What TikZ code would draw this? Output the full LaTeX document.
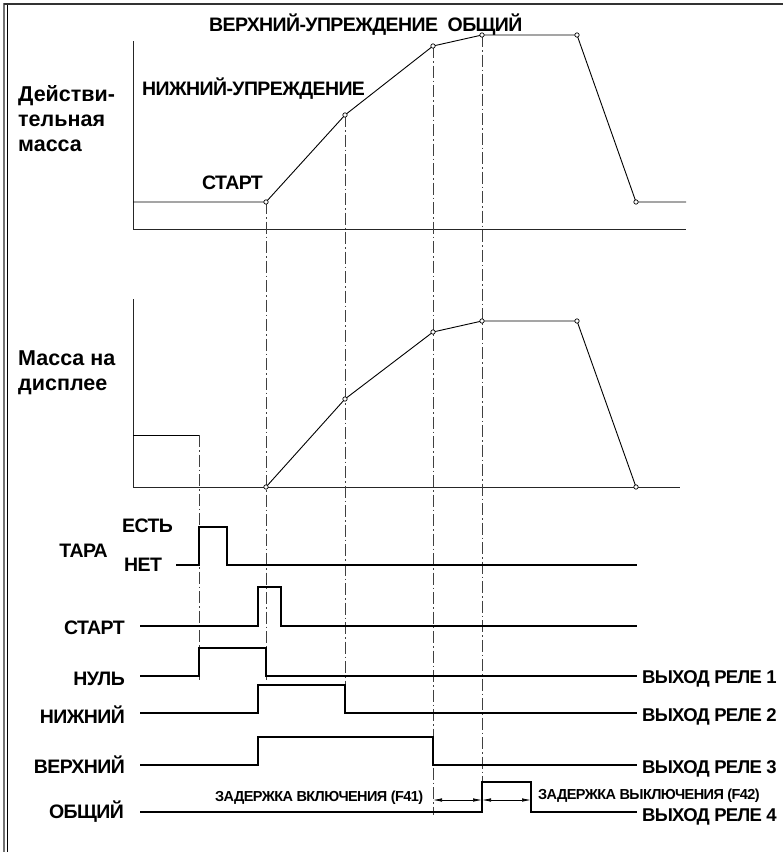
\documentclass[tikz,border=0pt]{standalone}
\usepackage{fontspec}
\setmainfont{Liberation Sans}
\usetikzlibrary{arrows.meta,positioning}

\begin{document}
\begin{tikzpicture}[
    x=1pt, y=-1pt,
    axis/.style={line width=0.9pt, black!85},
    curve/.style={line width=0.9pt},
    dotpt/.style={line width=0.7pt, fill=white},
    guide/.style={line width=0.8pt, black!75, dash pattern=on 12pt off 3pt on 1.5pt off 3pt},
    signal/.style={line width=2.8pt},
    lbl/.style={font=\bfseries\fontsize{19.5}{25}\selectfont\addfontfeature{LetterSpace=-3}, inner sep=0pt, align=left},
    axlbl/.style={font=\bfseries\fontsize{21.5}{25}\selectfont, inner sep=0pt, align=left},
    outlbl/.style={font=\bfseries\fontsize{18.5}{20}\selectfont\addfontfeature{LetterSpace=-4}, inner sep=0pt},
    small/.style={font=\bfseries\fontsize{14.5}{16}\selectfont\addfontfeature{LetterSpace=-4}, inner sep=0pt},
    dim/.style={{Latex[length=9pt,width=3.5pt]}-{Latex[length=9pt,width=3.5pt]}, line width=0.7pt}
]
    \useasboundingbox (0,0) rectangle (783,852);

    % Frame
    \draw[black!55, line width=2pt] (4,3) -- (4,852);
    \draw[line width=1.3pt] (7.5,4) -- (7.5,852);
    \draw[black!80, line width=2pt] (4,3.5) -- (783,3.5);

    % Actual mass
    \draw[axis] (133,41) -- (133,229) -- (686,229);
    \coordinate (t0) at (133,202);
    \coordinate (t1) at (266,202);
    \coordinate (t2) at (345,115);
    \coordinate (t3) at (433,46);
    \coordinate (t4) at (482,35);
    \coordinate (t5) at (577,35);
    \coordinate (t6) at (636,202);
    \coordinate (t7) at (686,202);
    \draw[curve] (t0) -- (t1) -- (t2) -- (t3) -- (t4) -- (t5) -- (t6) -- (t7);

    % Displayed mass
    \draw[axis] (133,299) -- (133,487) -- (680,487);
    \coordinate (tare) at (199,435);
    \draw[curve] (133,435) -- (tare);
    \coordinate (d1) at (266,487);
    \coordinate (d2) at (345,399);
    \coordinate (d3) at (433,332);
    \coordinate (d4) at (482,321);
    \coordinate (d5) at (577,321);
    \coordinate (d6) at (636,487);
    \draw[curve] (d1) -- (d2) -- (d3) -- (d4) -- (d5) -- (d6);

    % Guides
    \draw[guide] (tare) -- (199,680);
    \draw[guide] (t1) -- (266,680);
    \draw[guide] (t2) -- (345,713);
    \draw[guide] (t3) -- (433,815);
    \draw[guide] (t4) -- (482,815);

    \foreach \p in {t1,t2,t3,t4,t5,t6,d1,d2,d3,d4,d5,d6}
        \draw[dotpt] (\p) circle[radius=2.2pt];

    % Signals
    \draw[signal] (176,565) -- (199,565) -- (199,527) -- (227,527) -- (227,565) -- (637,565);
    \draw[signal] (140,626) -- (258,626) -- (258,587) -- (281,587) -- (281,626) -- (637,626);
    \draw[signal] (140,676) -- (199,676) -- (199,648) -- (266,648) -- (266,676) -- (637,676);
    \draw[signal] (140,713) -- (258,713) -- (258,685) -- (345,685) -- (345,713) -- (637,713);
    \draw[signal] (140,765) -- (258,765) -- (258,737) -- (433,737) -- (433,765) -- (637,765);
    \draw[signal] (140,812) -- (482,812) -- (482,782) -- (531,782) -- (531,812) -- (637,812);

    % Delays
    \coordinate (f41a) at (433,800);
    \coordinate (f41b) at (482,800);
    \coordinate (f42b) at (531,800);
    \draw[dim] (f41a) -- (f41b);
    \draw[dim] (f41b) -- (f42b);

    % Labels
    \node[lbl, anchor=base west] (top) at (209,31) {ВЕРХНИЙ-УПРЕЖДЕНИЕ\ \ ОБЩИЙ};
    \node[lbl, anchor=base west] (low) at (142,95) {НИЖНИЙ-УПРЕЖДЕНИЕ};
    \node[lbl, anchor=base west] (start) at (202,189) {СТАРТ};
    \node[axlbl, anchor=base west] (real) at (18,151) {Действи-\\тельная\\масса};
    \node[axlbl, anchor=base west] (disp) at (18,390) {Масса на\\дисплее};

    \node[lbl, anchor=base east] (tara) at (108,557) {ТАРА};
    \node[lbl, anchor=base west] (yes) at (122,532) {ЕСТЬ};
    \node[lbl, anchor=base west] (no) at (124,571) {НЕТ};
    \node[lbl, anchor=base east] (sstart) at (125,634) {СТАРТ};
    \node[lbl, anchor=base east] (zero) at (125,685) {НУЛЬ};
    \node[lbl, anchor=base east] (lower) at (125,723) {НИЖНИЙ};
    \node[lbl, anchor=base east] (upper) at (125,773) {ВЕРХНИЙ};
    \node[lbl, anchor=base east] (common) at (124,818) {ОБЩИЙ};

    \node[outlbl, anchor=base west] (out1) at (642,683) {ВЫХОД РЕЛЕ 1};
    \node[outlbl, anchor=base west] (out2) at (642,721) {ВЫХОД РЕЛЕ 2};
    \node[outlbl, anchor=base west] (out3) at (642,773) {ВЫХОД РЕЛЕ 3};
    \node[outlbl, anchor=base west] (out4) at (642,821) {ВЫХОД РЕЛЕ 4};

    \node[small, anchor=base west] (on) at (215,801) {ЗАДЕРЖКА ВКЛЮЧЕНИЯ (F41)};
    \node[small, anchor=base west] (off) at (538,799) {ЗАДЕРЖКА ВЫКЛЮЧЕНИЯ (F42)};

\end{tikzpicture}
\end{document}
